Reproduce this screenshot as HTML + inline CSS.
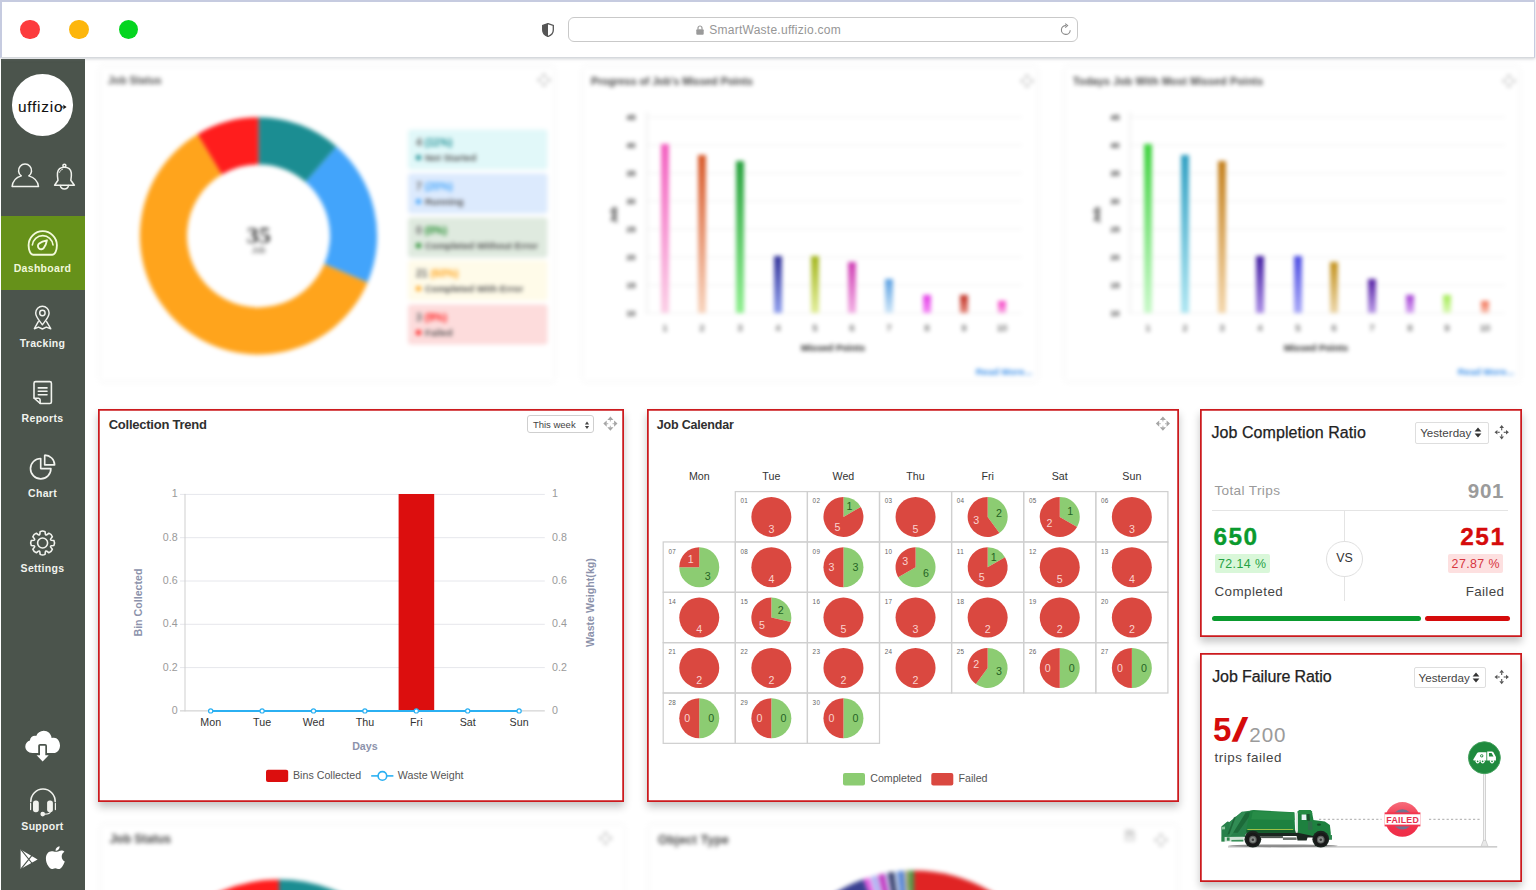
<!DOCTYPE html>
<html lang="en"><head><meta charset="utf-8"><title>SmartWaste Dashboard</title>
<style>
*{box-sizing:border-box;margin:0;padding:0}
html,body{width:1536px;height:890px;overflow:hidden;background:#fff;font-family:"Liberation Sans",sans-serif;}
#app{position:relative;width:1536px;height:890px;overflow:hidden;background:#fff}
.abs{position:absolute}
#bbar{position:absolute;left:0;top:0;width:1535px;height:58px;background:#fff;border:2px solid #c6cbe0;border-right-width:1.5px;border-bottom:1px solid #d6d9dd;box-shadow:0 1px 3px rgba(120,130,140,.35)}
#bbar .dot{position:absolute;top:17.6px;width:19.6px;height:19.6px;border-radius:50%}
#bbar .shield{position:absolute;left:540px;top:20.5px}
#bbar .url{position:absolute;left:566px;top:15px;width:510px;height:25px;border:1px solid #c9c9c9;border-radius:6px;background:#fff}
#bbar .lock{position:absolute;left:127px;top:7px}
#bbar .urltxt{position:absolute;left:140.2px;top:5.2px;font-size:12px;color:#969696;letter-spacing:0.26px;white-space:nowrap}
#bbar .reload{position:absolute;left:491px;top:5px}
#side{position:absolute;left:1px;top:59px;width:84.3px;height:831px;background:#4b544c}
.blur{filter:blur(2.1px)}
.card{position:absolute;background:#fff;box-shadow:inset 0 0 0 1.75px #cc1a1e,0 4.5px 8px rgba(0,0,0,.23)}
.bcard{position:absolute;background:#fff;box-shadow:0 0 5px rgba(0,0,0,.07)}
.t{position:absolute;white-space:nowrap;line-height:1}
.slab{font-size:10.5px;font-weight:700;text-align:center;line-height:12px}
.ctitle{font-size:12.5px;font-weight:700;color:#303030;letter-spacing:0px}
.sel{border:1px solid #cfcfcf;border-radius:3px;background:#fff}
.rtitle{font-size:16px;color:#222;letter-spacing:0.08px;-webkit-text-stroke:0.25px #222}
.sel2{border:1px solid #dedede;border-radius:2px;background:#fff}

</style></head>
<body>
<div id="app">
<div class="abs blur" style="left:86px;top:59px;width:1450px;height:340px"><div class="bcard" style="left:14px;top:8px;width:454px;height:314px"></div><div class="bcard" style="left:497px;top:8px;width:454px;height:314px"></div><div class="bcard" style="left:979px;top:8px;width:454px;height:314px"></div><svg class="abs" style="left:0;top:0" width="1450" height="340" viewBox="86 59 1450 340" font-family="Liberation Sans, sans-serif"><text x="108" y="84" font-size="10.5" font-weight="700" fill="#555">Job Status</text><text x="591" y="85" font-size="10.5" font-weight="700" fill="#444">Progress of Job's Missed Points</text><text x="1073" y="85" font-size="10.5" font-weight="700" fill="#444" letter-spacing="0.18">Todays Job With Most Missed Points</text><g fill="#c2c2c2" stroke="none"><path d="M544,73 l3.01,3.36 h-6.02 z M544,87 l3.01,-3.36 h-6.02 z M537,80 l3.36,-3.01 v6.02 z M551,80 l-3.36,-3.01 v6.02 z"/></g><path d="M544,76.36 V77.9 M544,83.64 V82.1 M540.36,80 H541.9 M547.64,80 H546.1" stroke="#c2c2c2" stroke-width="1.2" fill="none" opacity="0.7"/><g fill="#c2c2c2" stroke="none"><path d="M1027,74 l3.01,3.36 h-6.02 z M1027,88 l3.01,-3.36 h-6.02 z M1020,81 l3.36,-3.01 v6.02 z M1034,81 l-3.36,-3.01 v6.02 z"/></g><path d="M1027,77.36 V78.9 M1027,84.64 V83.1 M1023.36,81 H1024.9 M1030.64,81 H1029.1" stroke="#c2c2c2" stroke-width="1.2" fill="none" opacity="0.7"/><g fill="#c2c2c2" stroke="none"><path d="M1509,74 l3.01,3.36 h-6.02 z M1509,88 l3.01,-3.36 h-6.02 z M1502,81 l3.36,-3.01 v6.02 z M1516,81 l-3.36,-3.01 v6.02 z"/></g><path d="M1509,77.36 V78.9 M1509,84.64 V83.1 M1505.36,81 H1506.9 M1512.64,81 H1511.1" stroke="#c2c2c2" stroke-width="1.2" fill="none" opacity="0.7"/><path d="M258.50,117.30 A118.6,118.6 0 0 1 336.46,146.53 L305.50,182.02 A71.5,71.5 0 0 0 258.50,164.40 Z" fill="#1b8d92"/><path d="M336.46,146.53 A118.6,118.6 0 0 1 367.59,282.43 L324.27,263.95 A71.5,71.5 0 0 0 305.50,182.02 Z" fill="#42a4fb"/><path d="M367.59,282.43 A118.6,118.6 0 1 1 197.59,134.13 L221.78,174.55 A71.5,71.5 0 1 0 324.27,263.95 Z" fill="#ffa41c"/><path d="M197.59,134.13 A118.6,118.6 0 0 1 258.50,117.30 L258.50,164.40 A71.5,71.5 0 0 0 221.78,174.55 Z" fill="#ff1d1d"/><text x="258.7" y="243.2" font-size="24" font-weight="700" fill="#3c3c3c" text-anchor="middle" font-family="Liberation Serif, serif">35</text><text x="258.7" y="253" font-size="8.5" fill="#444" text-anchor="middle">Job</text><rect x="408" y="129.4" width="139.5" height="40.2" rx="3" fill="#e1f8f9"/><text x="416" y="146" font-size="10.5" font-weight="700" fill="#666">4 <tspan fill="#1b8d92">(11%)</tspan></text><circle cx="418.5" cy="157.5" r="2.6" fill="#1b8d92"/><text x="425" y="161" font-size="9.5" font-weight="700" fill="#555">Not Started</text><rect x="408" y="173.4" width="139.5" height="40.2" rx="3" fill="#dceafd"/><text x="416" y="190" font-size="10.5" font-weight="700" fill="#666">7 <tspan fill="#42a4fb">(20%)</tspan></text><circle cx="418.5" cy="201.5" r="2.6" fill="#42a4fb"/><text x="425" y="205" font-size="9.5" font-weight="700" fill="#555">Running</text><rect x="408" y="217.4" width="139.5" height="40.2" rx="3" fill="#dfeadf"/><text x="416" y="234" font-size="10.5" font-weight="700" fill="#666">0 <tspan fill="#1f8a2a">(0%)</tspan></text><circle cx="418.5" cy="245.5" r="2.6" fill="#1f8a2a"/><text x="425" y="249" font-size="9.5" font-weight="700" fill="#555">Completed Without Error</text><rect x="408" y="260.4" width="139.5" height="40.2" rx="3" fill="#fffbe9"/><text x="416" y="277" font-size="10.5" font-weight="700" fill="#666">21 <tspan fill="#ffa41c">(60%)</tspan></text><circle cx="418.5" cy="288.5" r="2.6" fill="#ffa41c"/><text x="425" y="292" font-size="9.5" font-weight="700" fill="#555">Completed With Error</text><rect x="408" y="304.4" width="139.5" height="40.2" rx="3" fill="#fddcdc"/><text x="416" y="321" font-size="10.5" font-weight="700" fill="#666">3 <tspan fill="#ff1d1d">(9%)</tspan></text><circle cx="418.5" cy="332.5" r="2.6" fill="#ff1d1d"/><text x="425" y="336" font-size="9.5" font-weight="700" fill="#555">Failed</text><line x1="647" x2="1022" y1="117" y2="117" stroke="#f0f0f0" stroke-width="1"/><line x1="647" x2="1022" y1="145" y2="145" stroke="#f0f0f0" stroke-width="1"/><line x1="647" x2="1022" y1="173" y2="173" stroke="#f0f0f0" stroke-width="1"/><line x1="647" x2="1022" y1="201" y2="201" stroke="#f0f0f0" stroke-width="1"/><line x1="647" x2="1022" y1="229" y2="229" stroke="#f0f0f0" stroke-width="1"/><line x1="647" x2="1022" y1="257" y2="257" stroke="#f0f0f0" stroke-width="1"/><line x1="647" x2="1022" y1="285" y2="285" stroke="#f0f0f0" stroke-width="1"/><line x1="647" x2="1022" y1="313" y2="313" stroke="#f0f0f0" stroke-width="1"/><line x1="647" x2="647" y1="112" y2="314" stroke="#e2e2e2" stroke-width="1"/><text x="631" y="120" font-size="8" fill="#222" text-anchor="middle" font-weight="700">45</text><text x="631" y="148" font-size="8" fill="#222" text-anchor="middle" font-weight="700">40</text><text x="631" y="176" font-size="8" fill="#222" text-anchor="middle" font-weight="700">35</text><text x="631" y="204" font-size="8" fill="#222" text-anchor="middle" font-weight="700">30</text><text x="631" y="232" font-size="8" fill="#222" text-anchor="middle" font-weight="700">25</text><text x="631" y="260" font-size="8" fill="#222" text-anchor="middle" font-weight="700">20</text><text x="631" y="288" font-size="8" fill="#222" text-anchor="middle" font-weight="700">15</text><text x="631" y="316" font-size="8" fill="#222" text-anchor="middle" font-weight="700">10</text><defs><linearGradient id="g1_0" x1="0" y1="0" x2="0" y2="1"><stop offset="0" stop-color="#f35fc0"/><stop offset="1" stop-color="#fbcfe6"/></linearGradient></defs><rect x="661" y="144" width="8" height="169" fill="url(#g1_0)"/><text x="665" y="331" font-size="9" fill="#222" text-anchor="middle">1</text><defs><linearGradient id="g1_1" x1="0" y1="0" x2="0" y2="1"><stop offset="0" stop-color="#d8592a"/><stop offset="1" stop-color="#f8d4bd"/></linearGradient></defs><rect x="698" y="155" width="8" height="158" fill="url(#g1_1)"/><text x="702" y="331" font-size="9" fill="#222" text-anchor="middle">2</text><defs><linearGradient id="g1_2" x1="0" y1="0" x2="0" y2="1"><stop offset="0" stop-color="#25a03c"/><stop offset="1" stop-color="#8ff08f"/></linearGradient></defs><rect x="736" y="161" width="8" height="152" fill="url(#g1_2)"/><text x="740" y="331" font-size="9" fill="#222" text-anchor="middle">3</text><defs><linearGradient id="g1_3" x1="0" y1="0" x2="0" y2="1"><stop offset="0" stop-color="#33349a"/><stop offset="1" stop-color="#8f9fee"/></linearGradient></defs><rect x="774" y="256" width="8" height="57" fill="url(#g1_3)"/><text x="778" y="331" font-size="9" fill="#222" text-anchor="middle">4</text><defs><linearGradient id="g1_4" x1="0" y1="0" x2="0" y2="1"><stop offset="0" stop-color="#a3b51d"/><stop offset="1" stop-color="#e2ee9a"/></linearGradient></defs><rect x="811" y="256" width="8" height="57" fill="url(#g1_4)"/><text x="815" y="331" font-size="9" fill="#222" text-anchor="middle">5</text><defs><linearGradient id="g1_5" x1="0" y1="0" x2="0" y2="1"><stop offset="0" stop-color="#cf3fb4"/><stop offset="1" stop-color="#f3b0e4"/></linearGradient></defs><rect x="848" y="262" width="8" height="51" fill="url(#g1_5)"/><text x="852" y="331" font-size="9" fill="#222" text-anchor="middle">6</text><defs><linearGradient id="g1_6" x1="0" y1="0" x2="0" y2="1"><stop offset="0" stop-color="#5aa0e2"/><stop offset="1" stop-color="#cfe6f8"/></linearGradient></defs><rect x="885" y="279" width="8" height="34" fill="url(#g1_6)"/><text x="889" y="331" font-size="9" fill="#222" text-anchor="middle">7</text><defs><linearGradient id="g1_7" x1="0" y1="0" x2="0" y2="1"><stop offset="0" stop-color="#e23ce6"/><stop offset="1" stop-color="#f58df6"/></linearGradient></defs><rect x="923" y="295" width="8" height="18" fill="url(#g1_7)"/><text x="927" y="331" font-size="9" fill="#222" text-anchor="middle">8</text><defs><linearGradient id="g1_8" x1="0" y1="0" x2="0" y2="1"><stop offset="0" stop-color="#c02e22"/><stop offset="1" stop-color="#e58d82"/></linearGradient></defs><rect x="960" y="295" width="8" height="18" fill="url(#g1_8)"/><text x="964" y="331" font-size="9" fill="#222" text-anchor="middle">9</text><defs><linearGradient id="g1_9" x1="0" y1="0" x2="0" y2="1"><stop offset="0" stop-color="#f53cc4"/><stop offset="1" stop-color="#f9aee4"/></linearGradient></defs><rect x="998" y="301" width="8" height="12" fill="url(#g1_9)"/><text x="1002" y="331" font-size="9" fill="#222" text-anchor="middle">10</text><text x="617" y="215" font-size="9" font-weight="700" fill="#222" text-anchor="middle" transform="rotate(-90 617 215)">Job</text><text x="833" y="351" font-size="9.5" font-weight="700" fill="#222" text-anchor="middle">Missed Points</text><text x="1004" y="375" font-size="9.5" font-weight="700" fill="#3b8fe8" text-anchor="middle">Read More...</text><line x1="1130" x2="1505" y1="117" y2="117" stroke="#f0f0f0" stroke-width="1"/><line x1="1130" x2="1505" y1="145" y2="145" stroke="#f0f0f0" stroke-width="1"/><line x1="1130" x2="1505" y1="173" y2="173" stroke="#f0f0f0" stroke-width="1"/><line x1="1130" x2="1505" y1="201" y2="201" stroke="#f0f0f0" stroke-width="1"/><line x1="1130" x2="1505" y1="229" y2="229" stroke="#f0f0f0" stroke-width="1"/><line x1="1130" x2="1505" y1="257" y2="257" stroke="#f0f0f0" stroke-width="1"/><line x1="1130" x2="1505" y1="285" y2="285" stroke="#f0f0f0" stroke-width="1"/><line x1="1130" x2="1505" y1="313" y2="313" stroke="#f0f0f0" stroke-width="1"/><line x1="1130" x2="1130" y1="112" y2="314" stroke="#e2e2e2" stroke-width="1"/><text x="1115" y="120" font-size="8" fill="#222" text-anchor="middle" font-weight="700">45</text><text x="1115" y="148" font-size="8" fill="#222" text-anchor="middle" font-weight="700">40</text><text x="1115" y="176" font-size="8" fill="#222" text-anchor="middle" font-weight="700">35</text><text x="1115" y="204" font-size="8" fill="#222" text-anchor="middle" font-weight="700">30</text><text x="1115" y="232" font-size="8" fill="#222" text-anchor="middle" font-weight="700">25</text><text x="1115" y="260" font-size="8" fill="#222" text-anchor="middle" font-weight="700">20</text><text x="1115" y="288" font-size="8" fill="#222" text-anchor="middle" font-weight="700">15</text><text x="1115" y="316" font-size="8" fill="#222" text-anchor="middle" font-weight="700">10</text><defs><linearGradient id="g2_0" x1="0" y1="0" x2="0" y2="1"><stop offset="0" stop-color="#3fd23f"/><stop offset="1" stop-color="#c9f9c9"/></linearGradient></defs><rect x="1144" y="144" width="8" height="169" fill="url(#g2_0)"/><text x="1148" y="331" font-size="9" fill="#222" text-anchor="middle">1</text><defs><linearGradient id="g2_1" x1="0" y1="0" x2="0" y2="1"><stop offset="0" stop-color="#2f9fc2"/><stop offset="1" stop-color="#aee6f2"/></linearGradient></defs><rect x="1181" y="155" width="8" height="158" fill="url(#g2_1)"/><text x="1185" y="331" font-size="9" fill="#222" text-anchor="middle">2</text><defs><linearGradient id="g2_2" x1="0" y1="0" x2="0" y2="1"><stop offset="0" stop-color="#c4801c"/><stop offset="1" stop-color="#f4d7ac"/></linearGradient></defs><rect x="1218" y="161" width="8" height="152" fill="url(#g2_2)"/><text x="1222" y="331" font-size="9" fill="#222" text-anchor="middle">3</text><defs><linearGradient id="g2_3" x1="0" y1="0" x2="0" y2="1"><stop offset="0" stop-color="#431fa2"/><stop offset="1" stop-color="#ab8ee6"/></linearGradient></defs><rect x="1256" y="256" width="8" height="57" fill="url(#g2_3)"/><text x="1260" y="331" font-size="9" fill="#222" text-anchor="middle">4</text><defs><linearGradient id="g2_4" x1="0" y1="0" x2="0" y2="1"><stop offset="0" stop-color="#4c4ce2"/><stop offset="1" stop-color="#a9a9f8"/></linearGradient></defs><rect x="1294" y="256" width="8" height="57" fill="url(#g2_4)"/><text x="1298" y="331" font-size="9" fill="#222" text-anchor="middle">5</text><defs><linearGradient id="g2_5" x1="0" y1="0" x2="0" y2="1"><stop offset="0" stop-color="#c3921f"/><stop offset="1" stop-color="#ecd6a9"/></linearGradient></defs><rect x="1330" y="262" width="8" height="51" fill="url(#g2_5)"/><text x="1334" y="331" font-size="9" fill="#222" text-anchor="middle">6</text><defs><linearGradient id="g2_6" x1="0" y1="0" x2="0" y2="1"><stop offset="0" stop-color="#5420a4"/><stop offset="1" stop-color="#b999e6"/></linearGradient></defs><rect x="1368" y="279" width="8" height="34" fill="url(#g2_6)"/><text x="1372" y="331" font-size="9" fill="#222" text-anchor="middle">7</text><defs><linearGradient id="g2_7" x1="0" y1="0" x2="0" y2="1"><stop offset="0" stop-color="#a23fd2"/><stop offset="1" stop-color="#d8aaf3"/></linearGradient></defs><rect x="1406" y="295" width="8" height="18" fill="url(#g2_7)"/><text x="1410" y="331" font-size="9" fill="#222" text-anchor="middle">8</text><defs><linearGradient id="g2_8" x1="0" y1="0" x2="0" y2="1"><stop offset="0" stop-color="#a2ea52"/><stop offset="1" stop-color="#dcf9b8"/></linearGradient></defs><rect x="1443" y="295" width="8" height="18" fill="url(#g2_8)"/><text x="1447" y="331" font-size="9" fill="#222" text-anchor="middle">9</text><defs><linearGradient id="g2_9" x1="0" y1="0" x2="0" y2="1"><stop offset="0" stop-color="#f26f52"/><stop offset="1" stop-color="#f9c6b8"/></linearGradient></defs><rect x="1481" y="301" width="8" height="12" fill="url(#g2_9)"/><text x="1485" y="331" font-size="9" fill="#222" text-anchor="middle">10</text><text x="1100" y="215" font-size="9" font-weight="700" fill="#222" text-anchor="middle" transform="rotate(-90 1100 215)">Job</text><text x="1316" y="351" font-size="9.5" font-weight="700" fill="#222" text-anchor="middle">Missed Points</text><text x="1486" y="375" font-size="9.5" font-weight="700" fill="#3b8fe8" text-anchor="middle">Read More...</text></svg></div>
<div class="abs blur" style="left:86px;top:812px;width:1120px;height:90px"><div class="bcard" style="left:14.5px;top:13px;width:523px;height:90px"></div><div class="bcard" style="left:563px;top:13px;width:528px;height:90px"></div><svg class="abs" style="left:0;top:0" width="1120" height="90" viewBox="86 812 1120 90" font-family="Liberation Sans, sans-serif"><text x="109.7" y="843" font-size="12" font-weight="700" fill="#444">Job Status</text><text x="658" y="844.2" font-size="12" font-weight="700" fill="#444" letter-spacing="0.3">Object Type</text><g fill="#c2c2c2" stroke="none"><path d="M605.6,831.3 l3.01,3.36 h-6.02 z M605.6,845.3 l3.01,-3.36 h-6.02 z M598.6,838.3 l3.36,-3.01 v6.02 z M612.6,838.3 l-3.36,-3.01 v6.02 z"/></g><path d="M605.6,834.66 V836.1999999999999 M605.6,841.9399999999999 V840.4 M601.96,838.3 H603.5 M609.24,838.3 H607.7" stroke="#c2c2c2" stroke-width="1.2" fill="none" opacity="0.7"/><g fill="#c2c2c2" stroke="none"><path d="M1161,833 l3.01,3.36 h-6.02 z M1161,847 l3.01,-3.36 h-6.02 z M1154,840 l3.36,-3.01 v6.02 z M1168,840 l-3.36,-3.01 v6.02 z"/></g><path d="M1161,836.36 V837.9 M1161,843.64 V842.1 M1157.36,840 H1158.9 M1164.64,840 H1163.1" stroke="#c2c2c2" stroke-width="1.2" fill="none" opacity="0.7"/><path d="M1124.8,829.6 h8 l2,2 v9.6 h-10 z" fill="#d6d6d6"/><rect x="1126.6" y="836" width="6.4" height="4" fill="#f2f2f2"/><path d="M279.00,879.40 A146,146 0 0 1 374.98,915.38 L336.85,959.09 A88,88 0 0 0 279.00,937.40 Z" fill="#1b8d92"/><path d="M152.56,952.40 A146,146 0 0 1 204.02,900.12 L233.81,949.89 A88,88 0 0 0 202.79,981.40 Z" fill="#ffa41c"/><path d="M204.02,900.12 A146,146 0 0 1 279.00,879.40 L279.00,937.40 A88,88 0 0 0 233.81,949.89 Z" fill="#ff1d1d"/><path d="M914,1020.5 L914.00,870.50 A150,150 0 0 1 1043.90,945.50 Z" fill="#e02424"/><path d="M914,1020.5 L908.50,870.60 A150,150 0 0 1 914.13,870.50 Z" fill="#4a9a4a"/><path d="M914,1020.5 L905.10,870.76 A150,150 0 0 1 908.63,870.60 Z" fill="#b0a060"/><path d="M914,1020.5 L903.28,870.88 A150,150 0 0 1 905.23,870.76 Z" fill="#a9c4f0"/><path d="M914,1020.5 L897.80,871.38 A150,150 0 0 1 903.41,870.87 Z" fill="#4f7fd0"/><path d="M914,1020.5 L894.42,871.78 A150,150 0 0 1 897.93,871.36 Z" fill="#c4d2f2"/><path d="M914,1020.5 L892.09,872.11 A150,150 0 0 1 894.55,871.77 Z" fill="#607090"/><path d="M914,1020.5 L887.95,872.78 A150,150 0 0 1 892.22,872.09 Z" fill="#2a3060"/><path d="M914,1020.5 L884.35,873.46 A150,150 0 0 1 888.08,872.76 Z" fill="#c9c9ee"/><path d="M914,1020.5 L877.97,874.89 A150,150 0 0 1 884.48,873.43 Z" fill="#c23cc2"/><path d="M914,1020.5 L876.19,875.34 A150,150 0 0 1 878.09,874.86 Z" fill="#e4c4ee"/><path d="M914,1020.5 L870.90,876.83 A150,150 0 0 1 876.32,875.31 Z" fill="#aab0f2"/><path d="M914,1020.5 L868.89,877.44 A150,150 0 0 1 871.02,876.79 Z" fill="#e8d0f4"/><path d="M914,1020.5 L863.19,879.37 A150,150 0 0 1 869.02,877.40 Z" fill="#e05ce0"/><path d="M914,1020.5 L807.93,914.43 A150,150 0 0 1 863.31,879.32 Z" fill="#3a4192"/></svg></div>
<div class="card" style="left:98px;top:409px;width:525.6px;height:393px"></div><div class="t ctitle" style="left:108.7px;top:418.2px;font-size:13px;letter-spacing:-0.24px">Collection Trend</div><div class="abs sel" style="left:527.3px;top:415.3px;width:66.5px;height:17.4px"><span class="t" style="left:4.6px;top:4.2px;font-size:9.5px;color:#444;letter-spacing:0px">This week</span><svg class="abs" style="left:55.8px;top:4.4px" width="6" height="9" viewBox="0 0 6 9"><path d="M3,0.6 L5.1,3.6 H0.9 Z M3,8.0 L5.1,5.0 H0.9 Z" fill="#444"/></svg></div><svg class="abs" style="left:98px;top:409px" width="526" height="394" viewBox="98 409 526 394" font-family="Liberation Sans, sans-serif"><g fill="#a6a6a6" stroke="none"><path d="M610.4,416.5 l3.053,3.408 h-6.106 z M610.4,430.70000000000005 l3.053,-3.408 h-6.106 z M603.3,423.6 l3.408,-3.053 v6.106 z M617.5,423.6 l-3.408,-3.053 v6.106 z"/></g><path d="M610.4,419.908 V421.47 M610.4,427.29200000000003 V425.73 M606.708,423.6 H608.27 M614.092,423.6 H612.53" stroke="#a6a6a6" stroke-width="1.2" fill="none" opacity="0.7"/><line x1="180.0" x2="544.8" y1="494.40" y2="494.40" stroke="#e6e7ec" stroke-width="1"/><text x="177.6" y="497.40" font-size="10.67" fill="#9a9a9a" text-anchor="end">1</text><text x="552" y="497.40" font-size="10.67" fill="#9a9a9a">1</text><line x1="180.0" x2="544.8" y1="537.70" y2="537.70" stroke="#e6e7ec" stroke-width="1"/><text x="177.6" y="540.70" font-size="10.67" fill="#9a9a9a" text-anchor="end">0.8</text><text x="552" y="540.70" font-size="10.67" fill="#9a9a9a">0.8</text><line x1="180.0" x2="544.8" y1="581.00" y2="581.00" stroke="#e6e7ec" stroke-width="1"/><text x="177.6" y="584.00" font-size="10.67" fill="#9a9a9a" text-anchor="end">0.6</text><text x="552" y="584.00" font-size="10.67" fill="#9a9a9a">0.6</text><line x1="180.0" x2="544.8" y1="624.30" y2="624.30" stroke="#e6e7ec" stroke-width="1"/><text x="177.6" y="627.30" font-size="10.67" fill="#9a9a9a" text-anchor="end">0.4</text><text x="552" y="627.30" font-size="10.67" fill="#9a9a9a">0.4</text><line x1="180.0" x2="544.8" y1="667.60" y2="667.60" stroke="#e6e7ec" stroke-width="1"/><text x="177.6" y="670.60" font-size="10.67" fill="#9a9a9a" text-anchor="end">0.2</text><text x="552" y="670.60" font-size="10.67" fill="#9a9a9a">0.2</text><line x1="180.0" x2="544.8" y1="710.90" y2="710.90" stroke="#c9c9c9" stroke-width="1"/><text x="177.6" y="713.90" font-size="10.67" fill="#9a9a9a" text-anchor="end">0</text><text x="552" y="713.90" font-size="10.67" fill="#9a9a9a">0</text><line x1="185.0" x2="185.0" y1="493.9" y2="711.4" stroke="#cfcfcf" stroke-width="1"/><rect x="398.6" y="494.0" width="35.6" height="216.9" fill="#dc0e0e"/><line x1="210.70" x2="519.10" y1="710.9" y2="710.9" stroke="#2bb0f2" stroke-width="2"/><circle cx="210.70" cy="710.9" r="2.1" fill="#fff" stroke="#2bb0f2" stroke-width="1.2"/><text x="210.70" y="726" font-size="10.67" fill="#333" text-anchor="middle">Mon</text><circle cx="262.10" cy="710.9" r="2.1" fill="#fff" stroke="#2bb0f2" stroke-width="1.2"/><text x="262.10" y="726" font-size="10.67" fill="#333" text-anchor="middle">Tue</text><circle cx="313.50" cy="710.9" r="2.1" fill="#fff" stroke="#2bb0f2" stroke-width="1.2"/><text x="313.50" y="726" font-size="10.67" fill="#333" text-anchor="middle">Wed</text><circle cx="364.90" cy="710.9" r="2.1" fill="#fff" stroke="#2bb0f2" stroke-width="1.2"/><text x="364.90" y="726" font-size="10.67" fill="#333" text-anchor="middle">Thu</text><circle cx="416.30" cy="710.9" r="2.1" fill="#fff" stroke="#2bb0f2" stroke-width="1.2"/><text x="416.30" y="726" font-size="10.67" fill="#333" text-anchor="middle">Fri</text><circle cx="467.70" cy="710.9" r="2.1" fill="#fff" stroke="#2bb0f2" stroke-width="1.2"/><text x="467.70" y="726" font-size="10.67" fill="#333" text-anchor="middle">Sat</text><circle cx="519.10" cy="710.9" r="2.1" fill="#fff" stroke="#2bb0f2" stroke-width="1.2"/><text x="519.10" y="726" font-size="10.67" fill="#333" text-anchor="middle">Sun</text><text x="364.9" y="750" font-size="10.67" font-weight="700" fill="#8c92ab" text-anchor="middle">Days</text><text x="142.4" y="602.5" font-size="10.67" font-weight="700" fill="#8c92ab" text-anchor="middle" transform="rotate(-90 142.4 602.5)">Bin Collected</text><text x="593.6" y="602.5" font-size="10.67" font-weight="700" fill="#8c92ab" text-anchor="middle" transform="rotate(-90 593.6 602.5)">Waste Weight(kg)</text><rect x="266" y="769.8" width="22.2" height="12.2" rx="2" fill="#dc0e0e"/><text x="293" y="778.8" font-size="10.67" fill="#555">Bins Collected</text><line x1="371.2" x2="393.4" y1="775.9" y2="775.9" stroke="#2bb0f2" stroke-width="1.6"/><circle cx="382.4" cy="775.9" r="4.3" fill="#fff" stroke="#2bb0f2" stroke-width="1.6"/><text x="397.8" y="778.8" font-size="10.67" fill="#555">Waste Weight</text></svg><div class="card" style="left:647px;top:409px;width:532px;height:393px"></div><div class="t ctitle" style="left:656.8px;top:418.8px;letter-spacing:-0.2px">Job Calendar</div><svg class="abs" style="left:647px;top:409px" width="532" height="394" viewBox="647 409 532 394" font-family="Liberation Sans, sans-serif"><g fill="#a6a6a6" stroke="none"><path d="M1162.9,416.5 l3.053,3.408 h-6.106 z M1162.9,430.70000000000005 l3.053,-3.408 h-6.106 z M1155.8000000000002,423.6 l3.408,-3.053 v6.106 z M1170.0,423.6 l-3.408,-3.053 v6.106 z"/></g><path d="M1162.9,419.908 V421.47 M1162.9,427.29200000000003 V425.73 M1159.208,423.6 H1160.77 M1166.592,423.6 H1165.0300000000002" stroke="#a6a6a6" stroke-width="1.2" fill="none" opacity="0.7"/><text x="699.25" y="480.4" font-size="10.67" fill="#333" text-anchor="middle">Mon</text><text x="771.35" y="480.4" font-size="10.67" fill="#333" text-anchor="middle">Tue</text><text x="843.45" y="480.4" font-size="10.67" fill="#333" text-anchor="middle">Wed</text><text x="915.55" y="480.4" font-size="10.67" fill="#333" text-anchor="middle">Thu</text><text x="987.65" y="480.4" font-size="10.67" fill="#333" text-anchor="middle">Fri</text><text x="1059.75" y="480.4" font-size="10.67" fill="#333" text-anchor="middle">Sat</text><text x="1131.85" y="480.4" font-size="10.67" fill="#333" text-anchor="middle">Sun</text><rect x="735.30" y="491.60" width="72.10" height="50.35" fill="none" stroke="#d0d0d0" stroke-width="1.25"/><text x="740.50" y="503.20" font-size="6.3" fill="#666" letter-spacing="0.3">01</text><circle cx="771.35" cy="516.88" r="20" fill="#da4840"/><text x="771.35" y="532.67" font-size="10.67" fill="#fbd3cf" text-anchor="middle">3</text><rect x="807.40" y="491.60" width="72.10" height="50.35" fill="none" stroke="#d0d0d0" stroke-width="1.25"/><text x="812.60" y="503.20" font-size="6.3" fill="#666" letter-spacing="0.3">02</text><path d="M843.45,516.88 L843.45,496.88 A20,20 0 0 1 860.77,506.88 Z" fill="#8ccc72"/><path d="M843.45,516.88 L860.77,506.88 A20,20 0 1 1 843.45,496.88 Z" fill="#da4840"/><text x="849.45" y="510.28" font-size="10.67" fill="#256325" text-anchor="middle">1</text><text x="837.45" y="531.07" font-size="10.67" fill="#fbd3cf" text-anchor="middle">5</text><rect x="879.50" y="491.60" width="72.10" height="50.35" fill="none" stroke="#d0d0d0" stroke-width="1.25"/><text x="884.70" y="503.20" font-size="6.3" fill="#666" letter-spacing="0.3">03</text><circle cx="915.55" cy="516.88" r="20" fill="#da4840"/><text x="915.55" y="532.67" font-size="10.67" fill="#fbd3cf" text-anchor="middle">5</text><rect x="951.60" y="491.60" width="72.10" height="50.35" fill="none" stroke="#d0d0d0" stroke-width="1.25"/><text x="956.80" y="503.20" font-size="6.3" fill="#666" letter-spacing="0.3">04</text><path d="M987.65,516.88 L987.65,496.88 A20,20 0 0 1 999.41,533.06 Z" fill="#8ccc72"/><path d="M987.65,516.88 L999.41,533.06 A20,20 0 1 1 987.65,496.88 Z" fill="#da4840"/><text x="999.06" y="516.97" font-size="10.67" fill="#256325" text-anchor="middle">2</text><text x="976.24" y="524.38" font-size="10.67" fill="#fbd3cf" text-anchor="middle">3</text><rect x="1023.70" y="491.60" width="72.10" height="50.35" fill="none" stroke="#d0d0d0" stroke-width="1.25"/><text x="1028.90" y="503.20" font-size="6.3" fill="#666" letter-spacing="0.3">05</text><path d="M1059.75,516.88 L1059.75,496.88 A20,20 0 0 1 1077.07,526.88 Z" fill="#8ccc72"/><path d="M1059.75,516.88 L1077.07,526.88 A20,20 0 1 1 1059.75,496.88 Z" fill="#da4840"/><text x="1070.14" y="514.67" font-size="10.67" fill="#256325" text-anchor="middle">1</text><text x="1049.36" y="526.67" font-size="10.67" fill="#fbd3cf" text-anchor="middle">2</text><rect x="1095.80" y="491.60" width="72.10" height="50.35" fill="none" stroke="#d0d0d0" stroke-width="1.25"/><text x="1101.00" y="503.20" font-size="6.3" fill="#666" letter-spacing="0.3">06</text><circle cx="1131.85" cy="516.88" r="20" fill="#da4840"/><text x="1131.85" y="532.67" font-size="10.67" fill="#fbd3cf" text-anchor="middle">3</text><rect x="663.20" y="541.95" width="72.10" height="50.35" fill="none" stroke="#d0d0d0" stroke-width="1.25"/><text x="668.40" y="553.55" font-size="6.3" fill="#666" letter-spacing="0.3">07</text><path d="M699.25,567.23 L699.25,547.23 A20,20 0 1 1 679.25,567.23 Z" fill="#8ccc72"/><path d="M699.25,567.23 L679.25,567.23 A20,20 0 0 1 699.25,547.23 Z" fill="#da4840"/><text x="707.74" y="579.51" font-size="10.67" fill="#256325" text-anchor="middle">3</text><text x="690.76" y="562.54" font-size="10.67" fill="#fbd3cf" text-anchor="middle">1</text><rect x="735.30" y="541.95" width="72.10" height="50.35" fill="none" stroke="#d0d0d0" stroke-width="1.25"/><text x="740.50" y="553.55" font-size="6.3" fill="#666" letter-spacing="0.3">08</text><circle cx="771.35" cy="567.23" r="20" fill="#da4840"/><text x="771.35" y="583.02" font-size="10.67" fill="#fbd3cf" text-anchor="middle">4</text><rect x="807.40" y="541.95" width="72.10" height="50.35" fill="none" stroke="#d0d0d0" stroke-width="1.25"/><text x="812.60" y="553.55" font-size="6.3" fill="#666" letter-spacing="0.3">09</text><path d="M843.45,567.23 L843.45,547.23 A20,20 0 0 1 843.45,587.23 Z" fill="#8ccc72"/><path d="M843.45,567.23 L843.45,587.23 A20,20 0 0 1 843.45,547.23 Z" fill="#da4840"/><text x="855.45" y="571.02" font-size="10.67" fill="#256325" text-anchor="middle">3</text><text x="831.45" y="571.02" font-size="10.67" fill="#fbd3cf" text-anchor="middle">3</text><rect x="879.50" y="541.95" width="72.10" height="50.35" fill="none" stroke="#d0d0d0" stroke-width="1.25"/><text x="884.70" y="553.55" font-size="6.3" fill="#666" letter-spacing="0.3">10</text><path d="M915.55,567.23 L915.55,547.23 A20,20 0 1 1 898.23,577.23 Z" fill="#8ccc72"/><path d="M915.55,567.23 L898.23,577.23 A20,20 0 0 1 915.55,547.23 Z" fill="#da4840"/><text x="925.94" y="577.02" font-size="10.67" fill="#256325" text-anchor="middle">6</text><text x="905.16" y="565.02" font-size="10.67" fill="#fbd3cf" text-anchor="middle">3</text><rect x="951.60" y="541.95" width="72.10" height="50.35" fill="none" stroke="#d0d0d0" stroke-width="1.25"/><text x="956.80" y="553.55" font-size="6.3" fill="#666" letter-spacing="0.3">11</text><path d="M987.65,567.23 L987.65,547.23 A20,20 0 0 1 1004.97,557.23 Z" fill="#8ccc72"/><path d="M987.65,567.23 L1004.97,557.23 A20,20 0 1 1 987.65,547.23 Z" fill="#da4840"/><text x="993.65" y="560.63" font-size="10.67" fill="#256325" text-anchor="middle">1</text><text x="981.65" y="581.42" font-size="10.67" fill="#fbd3cf" text-anchor="middle">5</text><rect x="1023.70" y="541.95" width="72.10" height="50.35" fill="none" stroke="#d0d0d0" stroke-width="1.25"/><text x="1028.90" y="553.55" font-size="6.3" fill="#666" letter-spacing="0.3">12</text><circle cx="1059.75" cy="567.23" r="20" fill="#da4840"/><text x="1059.75" y="583.02" font-size="10.67" fill="#fbd3cf" text-anchor="middle">5</text><rect x="1095.80" y="541.95" width="72.10" height="50.35" fill="none" stroke="#d0d0d0" stroke-width="1.25"/><text x="1101.00" y="553.55" font-size="6.3" fill="#666" letter-spacing="0.3">13</text><circle cx="1131.85" cy="567.23" r="20" fill="#da4840"/><text x="1131.85" y="583.02" font-size="10.67" fill="#fbd3cf" text-anchor="middle">4</text><rect x="663.20" y="592.30" width="72.10" height="50.35" fill="none" stroke="#d0d0d0" stroke-width="1.25"/><text x="668.40" y="603.90" font-size="6.3" fill="#666" letter-spacing="0.3">14</text><circle cx="699.25" cy="617.58" r="20" fill="#da4840"/><text x="699.25" y="633.38" font-size="10.67" fill="#fbd3cf" text-anchor="middle">4</text><rect x="735.30" y="592.30" width="72.10" height="50.35" fill="none" stroke="#d0d0d0" stroke-width="1.25"/><text x="740.50" y="603.90" font-size="6.3" fill="#666" letter-spacing="0.3">15</text><path d="M771.35,617.58 L771.35,597.58 A20,20 0 0 1 790.85,622.03 Z" fill="#8ccc72"/><path d="M771.35,617.58 L790.85,622.03 A20,20 0 1 1 771.35,597.58 Z" fill="#da4840"/><text x="780.73" y="613.89" font-size="10.67" fill="#256325" text-anchor="middle">2</text><text x="761.97" y="628.86" font-size="10.67" fill="#fbd3cf" text-anchor="middle">5</text><rect x="807.40" y="592.30" width="72.10" height="50.35" fill="none" stroke="#d0d0d0" stroke-width="1.25"/><text x="812.60" y="603.90" font-size="6.3" fill="#666" letter-spacing="0.3">16</text><circle cx="843.45" cy="617.58" r="20" fill="#da4840"/><text x="843.45" y="633.38" font-size="10.67" fill="#fbd3cf" text-anchor="middle">5</text><rect x="879.50" y="592.30" width="72.10" height="50.35" fill="none" stroke="#d0d0d0" stroke-width="1.25"/><text x="884.70" y="603.90" font-size="6.3" fill="#666" letter-spacing="0.3">17</text><circle cx="915.55" cy="617.58" r="20" fill="#da4840"/><text x="915.55" y="633.38" font-size="10.67" fill="#fbd3cf" text-anchor="middle">3</text><rect x="951.60" y="592.30" width="72.10" height="50.35" fill="none" stroke="#d0d0d0" stroke-width="1.25"/><text x="956.80" y="603.90" font-size="6.3" fill="#666" letter-spacing="0.3">18</text><circle cx="987.65" cy="617.58" r="20" fill="#da4840"/><text x="987.65" y="633.38" font-size="10.67" fill="#fbd3cf" text-anchor="middle">2</text><rect x="1023.70" y="592.30" width="72.10" height="50.35" fill="none" stroke="#d0d0d0" stroke-width="1.25"/><text x="1028.90" y="603.90" font-size="6.3" fill="#666" letter-spacing="0.3">19</text><circle cx="1059.75" cy="617.58" r="20" fill="#da4840"/><text x="1059.75" y="633.38" font-size="10.67" fill="#fbd3cf" text-anchor="middle">2</text><rect x="1095.80" y="592.30" width="72.10" height="50.35" fill="none" stroke="#d0d0d0" stroke-width="1.25"/><text x="1101.00" y="603.90" font-size="6.3" fill="#666" letter-spacing="0.3">20</text><circle cx="1131.85" cy="617.58" r="20" fill="#da4840"/><text x="1131.85" y="633.38" font-size="10.67" fill="#fbd3cf" text-anchor="middle">2</text><rect x="663.20" y="642.65" width="72.10" height="50.35" fill="none" stroke="#d0d0d0" stroke-width="1.25"/><text x="668.40" y="654.25" font-size="6.3" fill="#666" letter-spacing="0.3">21</text><circle cx="699.25" cy="667.93" r="20" fill="#da4840"/><text x="699.25" y="683.73" font-size="10.67" fill="#fbd3cf" text-anchor="middle">2</text><rect x="735.30" y="642.65" width="72.10" height="50.35" fill="none" stroke="#d0d0d0" stroke-width="1.25"/><text x="740.50" y="654.25" font-size="6.3" fill="#666" letter-spacing="0.3">22</text><circle cx="771.35" cy="667.93" r="20" fill="#da4840"/><text x="771.35" y="683.73" font-size="10.67" fill="#fbd3cf" text-anchor="middle">2</text><rect x="807.40" y="642.65" width="72.10" height="50.35" fill="none" stroke="#d0d0d0" stroke-width="1.25"/><text x="812.60" y="654.25" font-size="6.3" fill="#666" letter-spacing="0.3">23</text><circle cx="843.45" cy="667.93" r="20" fill="#da4840"/><text x="843.45" y="683.73" font-size="10.67" fill="#fbd3cf" text-anchor="middle">2</text><rect x="879.50" y="642.65" width="72.10" height="50.35" fill="none" stroke="#d0d0d0" stroke-width="1.25"/><text x="884.70" y="654.25" font-size="6.3" fill="#666" letter-spacing="0.3">24</text><circle cx="915.55" cy="667.93" r="20" fill="#da4840"/><text x="915.55" y="683.73" font-size="10.67" fill="#fbd3cf" text-anchor="middle">2</text><rect x="951.60" y="642.65" width="72.10" height="50.35" fill="none" stroke="#d0d0d0" stroke-width="1.25"/><text x="956.80" y="654.25" font-size="6.3" fill="#666" letter-spacing="0.3">25</text><path d="M987.65,667.93 L987.65,647.93 A20,20 0 1 1 975.89,684.11 Z" fill="#8ccc72"/><path d="M987.65,667.93 L975.89,684.11 A20,20 0 0 1 987.65,647.93 Z" fill="#da4840"/><text x="999.06" y="675.43" font-size="10.67" fill="#256325" text-anchor="middle">3</text><text x="976.24" y="668.02" font-size="10.67" fill="#fbd3cf" text-anchor="middle">2</text><rect x="1023.70" y="642.65" width="72.10" height="50.35" fill="none" stroke="#d0d0d0" stroke-width="1.25"/><text x="1028.90" y="654.25" font-size="6.3" fill="#666" letter-spacing="0.3">26</text><path d="M1059.75,667.93 L1059.75,647.93 A20,20 0 0 1 1059.75,687.93 Z" fill="#8ccc72"/><path d="M1059.75,667.93 L1059.75,687.93 A20,20 0 0 1 1059.75,647.93 Z" fill="#da4840"/><text x="1071.75" y="671.73" font-size="10.67" fill="#256325" text-anchor="middle">0</text><text x="1047.75" y="671.73" font-size="10.67" fill="#fbd3cf" text-anchor="middle">0</text><rect x="1095.80" y="642.65" width="72.10" height="50.35" fill="none" stroke="#d0d0d0" stroke-width="1.25"/><text x="1101.00" y="654.25" font-size="6.3" fill="#666" letter-spacing="0.3">27</text><path d="M1131.85,667.93 L1131.85,647.93 A20,20 0 0 1 1131.85,687.93 Z" fill="#8ccc72"/><path d="M1131.85,667.93 L1131.85,687.93 A20,20 0 0 1 1131.85,647.93 Z" fill="#da4840"/><text x="1143.85" y="671.73" font-size="10.67" fill="#256325" text-anchor="middle">0</text><text x="1119.85" y="671.73" font-size="10.67" fill="#fbd3cf" text-anchor="middle">0</text><rect x="663.20" y="693.00" width="72.10" height="50.35" fill="none" stroke="#d0d0d0" stroke-width="1.25"/><text x="668.40" y="704.60" font-size="6.3" fill="#666" letter-spacing="0.3">28</text><path d="M699.25,718.27 L699.25,698.27 A20,20 0 0 1 699.25,738.27 Z" fill="#8ccc72"/><path d="M699.25,718.27 L699.25,738.27 A20,20 0 0 1 699.25,698.27 Z" fill="#da4840"/><text x="711.25" y="722.07" font-size="10.67" fill="#256325" text-anchor="middle">0</text><text x="687.25" y="722.07" font-size="10.67" fill="#fbd3cf" text-anchor="middle">0</text><rect x="735.30" y="693.00" width="72.10" height="50.35" fill="none" stroke="#d0d0d0" stroke-width="1.25"/><text x="740.50" y="704.60" font-size="6.3" fill="#666" letter-spacing="0.3">29</text><path d="M771.35,718.27 L771.35,698.27 A20,20 0 0 1 771.35,738.27 Z" fill="#8ccc72"/><path d="M771.35,718.27 L771.35,738.27 A20,20 0 0 1 771.35,698.27 Z" fill="#da4840"/><text x="783.35" y="722.07" font-size="10.67" fill="#256325" text-anchor="middle">0</text><text x="759.35" y="722.07" font-size="10.67" fill="#fbd3cf" text-anchor="middle">0</text><rect x="807.40" y="693.00" width="72.10" height="50.35" fill="none" stroke="#d0d0d0" stroke-width="1.25"/><text x="812.60" y="704.60" font-size="6.3" fill="#666" letter-spacing="0.3">30</text><path d="M843.45,718.27 L843.45,698.27 A20,20 0 0 1 843.45,738.27 Z" fill="#8ccc72"/><path d="M843.45,718.27 L843.45,738.27 A20,20 0 0 1 843.45,698.27 Z" fill="#da4840"/><text x="855.45" y="722.07" font-size="10.67" fill="#256325" text-anchor="middle">0</text><text x="831.45" y="722.07" font-size="10.67" fill="#fbd3cf" text-anchor="middle">0</text><rect x="843" y="773" width="22" height="12.4" rx="2" fill="#8ccc72"/><text x="870.2" y="781.6" font-size="10.67" fill="#555">Completed</text><rect x="931.3" y="773" width="22" height="12.4" rx="2" fill="#da4840"/><text x="958.5" y="781.6" font-size="10.67" fill="#555">Failed</text></svg>
<div class="card" style="left:1199.7px;top:408.6px;width:322.6px;height:228.8px"></div><div class="t rtitle" style="left:1211.4px;top:424.9px">Job Completion Ratio</div><div class="abs sel2" style="left:1415.4px;top:421.8px;width:73.8px;height:21.8px"><span class="t" style="left:3.8px;top:4.1px;font-size:11.6px;color:#444">Yesterday</span><svg class="abs" style="left:57.4px;top:4.6px" width="8" height="11" viewBox="0 0 8 11"><path d="M4,0.4 L7.4,4.4 H0.6 Z M4,10.6 L7.4,6.6 H0.6 Z" fill="#333"/></svg></div><div class="t" style="left:1214.4px;top:484.0px;font-size:13.6px;color:#9a9a9a;letter-spacing:0.36px">Total Trips</div><div class="t" style="right:32.0px;top:481.4px;font-size:20.6px;font-weight:700;color:#9b9b9b;letter-spacing:0.6px">901</div><div class="abs" style="left:1212px;top:510px;width:296px;height:1px;background:#e4e4e4"></div><div class="abs" style="left:1344px;top:510px;width:1px;height:90.5px;background:#e4e4e4"></div><div class="abs" style="left:1326.2px;top:540.6px;width:36.6px;height:36.6px;border:1px solid #e0e0e0;border-radius:50%;background:#fff"></div><div class="t" style="left:1336.2px;top:552.4px;font-size:12.4px;color:#333">VS</div><div class="t" style="left:1213.4px;top:525.2px;font-size:24.4px;font-weight:700;color:#0a9a2e;letter-spacing:1.55px;-webkit-text-stroke:0.35px #0a9a2e">650</div><div class="abs" style="left:1215.2px;top:554.4px;width:54.4px;height:18.4px;background:#d9f7d9;border-radius:2px"></div><div class="t" style="left:1218.0px;top:557.6px;font-size:12.4px;color:#25a244;letter-spacing:0.42px">72.14 %</div><div class="t" style="left:1214.4px;top:585.2px;font-size:13.4px;color:#444;letter-spacing:0.45px">Completed</div><div class="t" style="right:30.5px;top:525.2px;font-size:24.4px;font-weight:700;color:#d50b0b;letter-spacing:1.5px;-webkit-text-stroke:0.35px #d50b0b">251</div><div class="abs" style="left:1447.8px;top:554.4px;width:55.4px;height:18.4px;background:#fde0e0;border-radius:2px"></div><div class="t" style="right:36.0px;top:557.6px;font-size:12.4px;color:#d7353f;letter-spacing:0.42px">27.87 %</div><div class="t" style="right:31.8px;top:585.2px;font-size:13.4px;color:#444;letter-spacing:0.32px">Failed</div><div class="abs" style="left:1212.4px;top:615.6px;width:208.4px;height:5.8px;border-radius:3px;background:#0a9a2e"></div><div class="abs" style="left:1425px;top:615.6px;width:85.2px;height:5.8px;border-radius:3px;background:#d50b0b"></div><div class="card" style="left:1199.7px;top:653.2px;width:322.6px;height:229px"></div><div class="t rtitle" style="left:1212.2px;top:669.4px;letter-spacing:-0.1px">Job Failure Ratio</div><div class="abs sel2" style="left:1414.2px;top:666.6px;width:71.6px;height:21.2px"><span class="t" style="left:3.4px;top:4.0px;font-size:11.6px;color:#444">Yesterday</span><svg class="abs" style="left:56.6px;top:4.4px" width="8" height="11" viewBox="0 0 8 11"><path d="M4,0.4 L7.4,4.4 H0.6 Z M4,10.6 L7.4,6.6 H0.6 Z" fill="#333"/></svg></div><div class="t" style="left:1213.0px;top:713.4px;font-size:33px;font-weight:700;color:#d50b0b">5<span style="display:inline-block;transform:scaleX(1.5) skewX(-6deg);transform-origin:0 50%;margin-left:1.6px">/</span></div><div class="t" style="left:1249.2px;top:724.8px;font-size:20.6px;color:#9b9b9b;letter-spacing:1.0px">200</div><div class="t" style="left:1214.4px;top:751.2px;font-size:13.4px;color:#444;letter-spacing:0.55px">trips failed</div><svg class="abs" style="left:1200px;top:409px" width="322" height="474" viewBox="1200 409 322 474" font-family="Liberation Sans, sans-serif"><g fill="#555" stroke="none"><path d="M1501.7,425.1 l2.3,2.9 h-4.6 z M1501.7,439.5 l2.3,-2.9 h-4.6 z M1494.5,432.3 l2.9,-2.3 v4.6 z M1508.9,432.3 l-2.9,-2.3 v4.6 z"/><rect x="1501.15" y="428.1" width="1.1" height="2.2"/><rect x="1501.15" y="434.3" width="1.1" height="2.2"/><rect x="1497.5" y="431.75" width="2.2" height="1.1"/><rect x="1503.7" y="431.75" width="2.2" height="1.1"/></g><g fill="#555" stroke="none"><path d="M1501.7,669.8 l2.3,2.9 h-4.6 z M1501.7,684.2 l2.3,-2.9 h-4.6 z M1494.5,677.0 l2.9,-2.3 v4.6 z M1508.9,677.0 l-2.9,-2.3 v4.6 z"/><rect x="1501.15" y="672.8" width="1.1" height="2.2"/><rect x="1501.15" y="679.0" width="1.1" height="2.2"/><rect x="1497.5" y="676.45" width="2.2" height="1.1"/><rect x="1503.7" y="676.45" width="2.2" height="1.1"/></g><line x1="1228" x2="1497.2" y1="846.9" y2="846.9" stroke="#bdbdbd" stroke-width="1.3"/><line x1="1319" x2="1381.5" y1="819.3" y2="819.3" stroke="#a9a9a9" stroke-width="1" stroke-dasharray="2.2 2.2"/><line x1="1429" x2="1479.6" y1="819.3" y2="819.3" stroke="#a9a9a9" stroke-width="1" stroke-dasharray="2.2 2.2"/><rect x="1483.1" y="772" width="2.9" height="74.4" fill="#cfcfcf"/><rect x="1484.0" y="772" width="1.1" height="74" fill="#f4f4f4"/><path d="M1481.0,846.4 L1483.3,840.4 H1485.8 L1488.0,846.4 Z" fill="#e9e9e9" stroke="#c4c4c4" stroke-width="0.7"/><circle cx="1484.4" cy="757.7" r="16.0" fill="#1f8a3e" stroke="#46a25f" stroke-width="0.9"/><g transform="translate(1484.6 757.5) scale(1.09) translate(-1484.6 -757.5)"><g fill="#fff"><path d="M1474.1999999999998,759.4 L1477.8,753.4 Q1478.3999999999999,752.5999999999999 1479.3999999999999,752.5999999999999 H1486.1999999999998 V760.1999999999999 H1474.5 Z"/><path d="M1487.0,752.0 H1491.1999999999998 Q1492.1999999999998,752.0 1492.8,753.0 L1495.0,757.0 V760.1999999999999 H1487.0 Z"/><circle cx="1478.1999999999998" cy="761.0" r="1.9"/><circle cx="1482.8" cy="761.0" r="1.9"/><circle cx="1491.3999999999999" cy="761.0" r="1.9"/></g><g fill="#1f8a3e"><circle cx="1478.1999999999998" cy="761.0" r="0.8"/><circle cx="1482.8" cy="761.0" r="0.8"/><circle cx="1491.3999999999999" cy="761.0" r="0.8"/><path d="M1488.6,753.4 H1491.0 L1492.8,756.5999999999999 H1488.6 Z"/><circle cx="1482.0" cy="756.0" r="1.5"/></g><circle cx="1482.0" cy="756.0" r="0.7" fill="#fff"/></g><defs><linearGradient id="fb" x1="0" y1="0" x2="0" y2="1"><stop offset="0" stop-color="#f66d7b"/><stop offset="0.45" stop-color="#f2364f"/><stop offset="1" stop-color="#ef2d48"/></linearGradient></defs><circle cx="1402.4" cy="819.4" r="17.3" fill="url(#fb)"/><circle cx="1402.4" cy="819.4" r="10.2" fill="#74738f"/><rect x="1384.6" y="812.4" width="35.8" height="14" fill="#f2364f"/><rect x="1384.6" y="814.3" width="35.8" height="10.3" fill="#fff"/><text x="1402.7" y="822.7" font-size="8.8" font-weight="700" fill="#e42f4e" text-anchor="middle" letter-spacing="0.25">FAILED</text><ellipse cx="1282.93" cy="845.79" rx="54.69" ry="1.37" fill="#7d7d7d" opacity="0.85"/><polygon points="1246.46,831.48 1328.51,831.48 1328.51,837.40 1307.54,837.40 1306.63,840.59 1297.51,840.59 1296.60,836.03 1246.46,836.03" fill="#1b2620"/><polygon points="1261.05,836.03 1282.93,836.03 1282.93,838.13 1261.05,838.13" fill="#4f5752"/><polygon points="1282.93,837.40 1296.60,837.40 1296.60,839.95 1282.93,839.95" fill="#6d736f"/><polygon points="1221.39,826.46 1227.32,821.45 1229.60,821.91 1241.91,811.70 1253.76,810.24 1253.76,832.84 1246.46,832.84 1244.64,836.95 1221.39,836.95" fill="#27804a"/><polygon points="1229.60,821.91 1241.91,811.70 1245.73,812.79 1233.25,832.84 1229.60,836.76" fill="#318c54"/><polygon points="1245.73,812.79 1252.84,811.42 1237.80,832.84 1233.25,832.84" fill="#1c6a39"/><polygon points="1233.88,817.35 1235.98,816.44 1229.60,833.76 1227.32,834.67" fill="#185c32" opacity="0.75"/><polygon points="1221.39,836.95 1243.73,836.67 1243.36,841.60 1221.39,841.60" fill="#cfe3d5"/><polygon points="1221.39,836.95 1224.59,836.95 1224.59,841.60 1221.39,841.60" fill="#2a854b"/><polygon points="1226.86,837.40 1229.60,837.40 1229.60,840.68 1226.86,840.68" fill="#2a854b"/><polygon points="1231.42,839.95 1243.36,839.68 1243.36,841.60 1231.42,841.60" fill="#3a915a"/><polygon points="1221.85,826.92 1225.04,826.46 1225.04,829.20 1221.85,829.38" fill="#8fc8a0"/><polygon points="1250.11,810.78 1253.76,810.05 1294.32,812.33 1295.23,832.84 1246.46,832.84 1246.46,828.29" fill="#1e8140"/><polygon points="1252.84,811.15 1294.32,812.52 1294.59,820.08 1251.20,819.35" fill="#278c47"/><polygon points="1247.37,829.02 1293.14,829.02 1293.14,829.74 1247.37,829.74" fill="#c9d64a"/><polygon points="1246.46,829.93 1295.23,829.93 1295.23,832.84 1246.46,832.84" fill="#145a2b"/><polygon points="1297.69,811.15 1299.79,810.05 1310.27,810.05 1311.91,811.42 1313.46,820.08 1324.86,821.45 1329.87,825.10 1330.78,832.84 1330.78,836.03 1313.01,836.03 1297.69,832.84" fill="#1e813f"/><polygon points="1297.69,811.15 1299.79,810.05 1310.27,810.05 1311.91,811.42 1312.28,813.88 1297.69,813.88" fill="#258b45"/><polygon points="1301.61,814.61 1306.26,814.61 1306.44,820.08 1301.61,820.08" fill="#e8f3f6"/><polygon points="1306.81,813.88 1309.54,813.88 1309.91,820.63 1307.17,820.63" fill="#1b4f2e"/><polygon points="1307.99,821.45 1312.10,821.45 1312.55,830.11 1307.99,830.11" fill="#2f6f4a"/><polygon points="1295.69,812.79 1297.69,812.79 1297.69,832.84 1295.69,832.84" fill="#e3eae4"/><ellipse cx="1318.93" cy="824.64" rx="2.01" ry="1.09" fill="#134a26"/><polygon points="1328.05,835.58 1331.97,835.12 1331.97,839.68 1328.05,839.68" fill="#2a854b"/><circle cx="1252.84" cy="839.23" r="8.39" fill="#1b2620"/><circle cx="1320.76" cy="839.23" r="8.39" fill="#1b2620"/><circle cx="1252.84" cy="839.68" r="6.93" fill="#191919"/><circle cx="1252.84" cy="839.68" r="3.83" fill="#5d625f"/><circle cx="1252.84" cy="839.68" r="2.73" fill="#8a8e8b"/><circle cx="1252.84" cy="839.68" r="1.28" fill="#3a3d3b"/><circle cx="1320.76" cy="839.68" r="6.93" fill="#191919"/><circle cx="1320.76" cy="839.68" r="3.83" fill="#5d625f"/><circle cx="1320.76" cy="839.68" r="2.73" fill="#8a8e8b"/><circle cx="1320.76" cy="839.68" r="1.28" fill="#3a3d3b"/></svg>
<div id="side"><div class="abs" style="left:10.8px;top:15.3px;width:61.5px;height:61.5px;border-radius:50%;background:#fff"></div><div class="t" style="left:16.9px;top:39.5px;font-size:15.4px;color:#111;letter-spacing:0.78px;font-weight:400;-webkit-text-stroke:0.12px #111">uffizio</div><svg class="abs" style="left:60.4px;top:44.9px" width="6" height="6" viewBox="0 0 6 6"><path d="M0,2.45 H2.8 L1.9,0.6 L5.6,3 L1.9,5.4 L2.8,3.55 H0 Z" fill="#111"/></svg><svg class="abs" style="left:0;top:0" width="84" height="831" viewBox="1 59 84 831" fill="none" stroke="#f1f3ee" stroke-width="1.5" stroke-linejoin="round" stroke-linecap="round"><path d="M12.1,186.6 C12.8,180.6 16.6,177.2 21.3,175.9 A6.5,6.5 0 1 1 28.8,175.9 C33.5,177.2 37.7,180.6 38.5,186.6 Z"/><path d="M54.6,185.2 L58.0,180.3 C57.6,177.5 57.2,175.2 57.5,172.8 C58.0,169.4 60.6,167.3 64.4,167.3 C68.2,167.3 70.8,169.4 71.3,172.8 C71.6,175.2 71.2,177.5 70.8,180.3 L74.4,185.2 Z"/><path d="M60.3,185.6 A4.2,4.2 0 0 0 68.5,185.6"/><circle cx="64.4" cy="165.7" r="1.5"/><path d="M59.6,172.4 C60.1,170.6 61.2,169.6 62.6,169.2" stroke-width="0.9"/></svg><div class="abs" style="left:0;top:157px;width:84.3px;height:74px;background:#66911a"></div><svg class="abs" style="left:0;top:0" width="84" height="831" viewBox="1 59 84 831" fill="none" stroke="#f1f3ee" stroke-width="1.6" stroke-linejoin="round" stroke-linecap="round"><g stroke="#f3fadc" stroke-width="1.85"><path d="M33.2,254.7 C30.5,254.7 28.6,250.5 28.6,245.3 A14.15,14.15 0 0 1 56.9,245.3 C56.9,250.5 55.0,254.7 52.3,254.7 Z"/><path d="M32.35,245.0 A10.4,10.4 0 0 1 53.05,245.0" stroke-width="1.6"/><path d="M46.9,240.3 C46.4,243.2 45.4,246.0 43.8,247.9 A3.25,3.25 0 1 1 39.2,243.4 C41.2,241.9 44.0,240.9 46.9,240.3 Z"/></g><g stroke-width="1.45"><path d="M42.4,324.7 C39.5,320.9 35.7,317.1 35.7,313.0 A6.7,6.7 0 0 1 49.1,313.0 C49.1,317.1 45.3,320.9 42.4,324.7 Z"/><circle cx="42.4" cy="313.0" r="2.7"/><path d="M38.3,321.7 L34.4,328.7 L38.5,327.1 L42.4,329.0 L46.3,327.1 L50.7,328.7 L46.6,321.7"/></g><g stroke-width="1.6"><path d="M35.6,381.6 H49.8 Q51.4,381.6 51.4,383.2 V401.9 Q51.4,403.5 49.8,403.5 H40.2 L34.0,398.0 V383.2 Q34.0,381.6 35.6,381.6 Z"/><path d="M34.2,398.2 H38.6 Q40.0,398.3 40.1,399.8 V403.3"/><path d="M38.3,387.9 H47.0 M38.3,391.3 H47.0 M38.3,394.7 H47.0"/></g><g stroke-width="1.65"><path d="M40.7,458.5 V468.6 H50.9 A10.2,10.2 0 1 1 40.7,458.5 Z"/><path d="M44.7,455.2 A9.8,9.8 0 0 1 54.6,464.9 H44.7 Z"/></g><g stroke-width="1.6"><path d="M39.79,534.35 L40.16,531.66 Q42.60,530.40 45.04,531.66 L45.41,534.35 Q45.74,535.42 46.73,534.89 L48.89,533.25 Q51.51,534.09 52.35,536.71 L50.71,538.87 Q50.18,539.86 51.25,540.19 L53.94,540.56 Q55.20,543.00 53.94,545.44 L51.25,545.81 Q50.18,546.14 50.71,547.13 L52.35,549.29 Q51.51,551.91 48.89,552.75 L46.73,551.11 Q45.74,550.58 45.41,551.65 L45.04,554.34 Q42.60,555.60 40.16,554.34 L39.79,551.65 Q39.46,550.58 38.47,551.11 L36.31,552.75 Q33.69,551.91 32.85,549.29 L34.49,547.13 Q35.02,546.14 33.95,545.81 L31.26,545.44 Q30.00,543.00 31.26,540.56 L33.95,540.19 Q35.02,539.86 34.49,538.87 L32.85,536.71 Q33.69,534.09 36.31,533.25 L38.47,534.89 Q39.46,535.42 39.79,534.35 Z"/><circle cx="42.6" cy="543.0" r="5.0"/></g><g stroke-width="1.6"><path d="M30.8,801.6 A12.2,12.6 0 0 1 55.2,801.6"/><path d="M30.6,803.4 V809.6 M55.4,803.4 V809.6" stroke-width="1.2"/><path d="M50.4,811.6 C50.0,813.6 47.6,814.2 44.4,814.1" stroke-width="1.2"/></g><g fill="#f1f3ee" stroke="none"><rect x="33.0" y="800.4" width="5.8" height="11.8" rx="2.6"/><rect x="47.1" y="800.4" width="5.8" height="11.8" rx="2.6"/><circle cx="42.7" cy="814.1" r="2.3"/></g></svg><svg class="abs" style="left:0;top:0" width="84" height="831" viewBox="1 59 84 831" fill="#fff" stroke="none"><path d="M32.4,753.0 C28.2,753.0 25.3,750.2 25.3,746.6 C25.3,743.6 27.3,741.3 29.9,740.6 C30.2,737.6 32.3,735.7 34.9,735.7 C35.3,735.7 35.8,735.8 36.2,735.9 C37.4,732.8 40.3,730.7 43.7,730.7 C47.9,730.7 51.3,733.9 51.6,738.0 C52.4,737.8 53.1,737.7 53.9,737.7 C57.3,737.7 60.0,741.2 60.0,745.4 C60.0,749.6 57.2,753.0 53.6,753.0 Z"/><path d="M38.2,755.2 V745.8 Q38.2,743.9 40.1,743.9 H45.1 Q47.0,743.9 47.0,745.8 V755.2 Z" fill="#4b544c"/><path d="M40.0,745.7 H45.3 V755.2 H48.7 L42.65,761.5 L36.6,755.2 H40.0 Z"/><path d="M20.6,849.6 L37.6,859.4 L20.6,868.9 Z"/><path d="M21.0,849.7 L32.6,864.0 M21.0,868.8 L32.6,854.6" stroke="#4b544c" stroke-width="1.1" fill="none"/><path d="M56.9,851.8 C58.6,851.8 60.0,850.6 61.3,850.6 C62.6,850.6 63.9,851.2 64.4,851.7 C62.6,852.9 61.7,854.5 61.7,856.6 C61.7,859.0 63.0,860.8 64.8,861.6 C64.2,863.6 63.2,865.4 62.0,866.9 C61.0,868.1 60.0,869.0 58.7,869.0 C57.5,869.0 56.9,868.2 55.3,868.2 C53.7,868.2 53.0,869.0 51.9,869.0 C50.6,869.0 49.6,867.9 48.6,866.6 C46.9,864.3 45.9,861.2 45.9,858.4 C45.9,854.0 48.6,851.2 51.6,851.2 C53.2,851.2 54.6,851.8 55.6,851.8 Z" /><path d="M55.5,850.7 C55.4,848.4 57.4,846.4 59.6,846.2 C59.8,848.6 57.7,850.8 55.5,850.7 Z"/></svg><div class="t slab" style="left:0;width:83px;top:202.5px;color:#f1f8da;letter-spacing:0.3px">Dashboard</div><div class="t slab" style="left:0;width:83px;top:277.5px;color:#f1f3ee;letter-spacing:0.3px">Tracking</div><div class="t slab" style="left:0;width:83px;top:352.5px;color:#f1f3ee;letter-spacing:0.3px">Reports</div><div class="t slab" style="left:0;width:83px;top:427.5px;color:#f1f3ee;letter-spacing:0.3px">Chart</div><div class="t slab" style="left:0;width:83px;top:502.7px;color:#f1f3ee;letter-spacing:0.3px">Settings</div><div class="t slab" style="left:0;width:83px;top:761.2px;color:#f1f3ee;letter-spacing:0.3px">Support</div></div>
<div id="bbar">
  <span class="dot" style="left:18px;background:#fc3b3d"></span>
  <span class="dot" style="left:67.4px;background:#fdb60c"></span>
  <span class="dot" style="left:116.7px;background:#05d520"></span>
  <svg class="shield" width="12" height="14" viewBox="0 0 12 14"><path d="M6 0.6 L11.3 2.4 V7 C11.3 10.2 9 12.4 6 13.5 C3 12.4 0.7 10.2 0.7 7 V2.4 Z" fill="none" stroke="#555" stroke-width="1.3"/><path d="M6 0.6 L0.7 2.4 V7 C0.7 10.2 3 12.4 6 13.5 Z" fill="#555"/></svg>
  <div class="url">
    <svg class="lock" width="8" height="10" viewBox="0 0 8 10"><rect x="0.3" y="4.2" width="7.4" height="5.6" rx="1" fill="#9a9a9a"/><path d="M2 4.5 V3 a2 2 0 0 1 4 0 V4.5" fill="none" stroke="#9a9a9a" stroke-width="1.2"/></svg>
    <span class="urltxt">SmartWaste.uffizio.com</span>
    <svg class="reload" width="12" height="13" viewBox="0 0 12 13"><path d="M10.2 7.2 A4.4 4.4 0 1 1 6 2.6" fill="none" stroke="#8a8a8a" stroke-width="1.1"/><path d="M5.2 0.6 L7.6 2.6 L5.2 4.6" fill="none" stroke="#8a8a8a" stroke-width="1.1"/></svg>
  </div>
</div>
</div>
</body></html>
